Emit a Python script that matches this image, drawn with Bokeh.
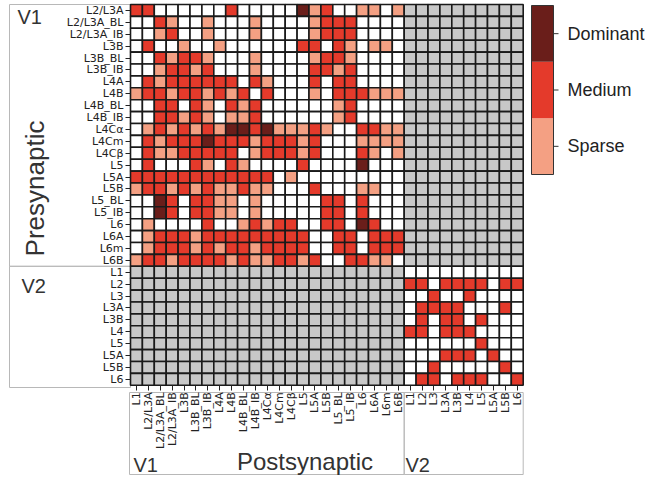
import math
from bokeh.plotting import figure
from bokeh.models import Range1d, LinearAxis, FixedTicker, ColumnDataSource
from bokeh.core.properties import value
from bokeh.embed import file_html
from bokeh.resources import INLINE

# ---------------- data ----------------
pre_v1 = ["L2/L3A", "L2/L3A_BL", "L2/L3A_IB", "L3B", "L3B_BL", "L3B_IB", "L4A", "L4B",
          "L4B_BL", "L4B_IB", "L4Cα", "L4Cm", "L4Cβ", "L5", "L5A", "L5B", "L5_BL", "L5_IB",
          "L6", "L6A", "L6m", "L6B"]
post_v1 = ["L1"] + pre_v1
v2_layers = ["L1", "L2", "L3", "L3A", "L3B", "L4", "L5", "L5A", "L5B", "L6"]
areas = ["V1", "V2"]
levels = ["Sparse", "Medium", "Dominant"]
level_colors = ["#f4a083", "#e43a2b", "#6a1e1a"]
empty_color = "#ffffff"
gray_color = "#c8c8c8"

# 0 = none, 1 = sparse, 2 = medium, 3 = dominant  (rows: presynaptic V1, cols: postsynaptic V1)
v1_matrix = [
    [2, 2, 0, 0, 0, 0, 0, 0, 2, 0, 0, 0, 0, 0, 3, 1, 2, 0, 0, 1, 1, 0, 1],
    [0, 0, 2, 1, 0, 0, 1, 0, 0, 0, 1, 0, 0, 0, 0, 1, 2, 2, 2, 0, 0, 0, 0],
    [0, 0, 1, 2, 0, 0, 1, 0, 0, 0, 1, 0, 0, 0, 0, 1, 2, 2, 2, 0, 0, 0, 0],
    [0, 2, 0, 0, 1, 0, 0, 1, 0, 0, 0, 0, 0, 0, 2, 2, 0, 2, 1, 0, 1, 1, 0],
    [0, 0, 2, 1, 2, 2, 1, 0, 0, 0, 1, 0, 0, 0, 0, 1, 2, 2, 1, 0, 0, 0, 0],
    [0, 0, 1, 2, 2, 1, 2, 0, 0, 0, 1, 0, 0, 0, 0, 2, 2, 1, 2, 0, 0, 0, 0],
    [0, 2, 1, 2, 2, 2, 2, 2, 2, 0, 2, 1, 0, 0, 0, 2, 0, 2, 2, 0, 0, 0, 0],
    [1, 2, 2, 1, 2, 2, 1, 2, 1, 2, 0, 2, 0, 0, 0, 1, 0, 2, 2, 2, 1, 1, 1],
    [0, 0, 2, 2, 0, 2, 1, 0, 2, 1, 2, 0, 0, 0, 0, 0, 0, 1, 2, 0, 0, 0, 0],
    [0, 0, 2, 2, 1, 2, 1, 0, 1, 1, 2, 0, 0, 0, 0, 0, 0, 1, 2, 0, 0, 0, 0],
    [0, 1, 2, 1, 2, 1, 2, 1, 3, 3, 2, 3, 1, 1, 1, 2, 1, 0, 0, 2, 2, 1, 1],
    [0, 2, 1, 2, 2, 2, 3, 2, 2, 2, 1, 2, 2, 2, 1, 2, 0, 0, 0, 1, 1, 1, 1],
    [0, 2, 1, 1, 2, 2, 2, 2, 2, 0, 1, 2, 2, 2, 1, 2, 0, 0, 0, 2, 1, 0, 1],
    [0, 2, 0, 0, 0, 2, 1, 0, 2, 1, 0, 0, 0, 0, 2, 0, 0, 0, 0, 3, 0, 0, 0],
    [2, 2, 2, 2, 2, 2, 2, 2, 2, 2, 2, 2, 0, 1, 0, 0, 0, 0, 0, 0, 0, 0, 0],
    [1, 2, 2, 1, 2, 1, 2, 1, 1, 2, 1, 1, 0, 0, 0, 2, 0, 0, 0, 1, 1, 0, 0],
    [0, 0, 3, 2, 0, 2, 2, 1, 1, 0, 1, 0, 0, 0, 0, 0, 2, 2, 0, 2, 0, 0, 0],
    [0, 0, 3, 2, 0, 2, 2, 1, 1, 0, 1, 0, 0, 0, 0, 0, 2, 2, 0, 2, 0, 0, 0],
    [0, 1, 0, 0, 0, 0, 2, 0, 0, 1, 2, 1, 2, 2, 0, 0, 2, 2, 0, 3, 2, 0, 0],
    [0, 1, 2, 2, 2, 1, 2, 2, 2, 2, 2, 2, 2, 2, 2, 0, 0, 2, 2, 0, 2, 2, 2],
    [0, 1, 2, 2, 2, 1, 2, 1, 2, 2, 1, 2, 2, 2, 2, 0, 0, 2, 2, 0, 2, 2, 2],
    [1, 2, 2, 1, 2, 2, 2, 2, 1, 2, 1, 1, 2, 2, 1, 2, 0, 0, 2, 2, 1, 1, 0],
]

# rows: presynaptic V2, cols: postsynaptic V2
v2_matrix = [
    [0, 0, 0, 0, 0, 0, 0, 0, 0, 0],
    [2, 2, 0, 2, 2, 2, 2, 0, 2, 2],
    [0, 0, 2, 0, 0, 2, 0, 0, 0, 0],
    [0, 2, 2, 2, 2, 0, 0, 0, 2, 0],
    [0, 2, 0, 2, 2, 0, 2, 0, 0, 0],
    [2, 2, 0, 2, 2, 2, 0, 0, 0, 0],
    [0, 0, 0, 0, 0, 0, 2, 0, 0, 0],
    [0, 0, 0, 2, 2, 2, 0, 2, 0, 0],
    [0, 0, 2, 0, 0, 0, 0, 0, 2, 0],
    [0, 2, 2, 0, 2, 2, 2, 0, 0, 2],
]

row_labels = pre_v1 + v2_layers
col_labels = post_v1 + v2_layers
n_rows, n_cols = len(row_labels), len(col_labels)
n_v1_rows, n_v1_cols = len(pre_v1), len(post_v1)

# ---------------- layout helpers (picture pixels -> data units) ----------------
CW = 11.9
GX0, GY0 = 130.0, 4.0
W, H = 645, 475


def X(px):
    return (px - GX0) / CW - 0.5


def Y(py):
    return (py - GY0) / CW - 0.5


p = figure(width=W, height=H, output_backend="svg", toolbar_location=None,
           x_range=Range1d(X(0), X(W)),
           y_range=Range1d(Y(H), Y(0)),
           x_axis_location=None, y_axis_location=None,
           min_border=0, outline_line_color=None)
p.styles = {"margin-bottom": "-16px"}
p.grid.visible = False

# ---------------- cells ----------------
palette = [empty_color] + level_colors
xs, ys, cs = [], [], []
for i in range(n_rows):
    for j in range(n_cols):
        if i < n_v1_rows and j < n_v1_cols:
            c = palette[v1_matrix[i][j]]
        elif i >= n_v1_rows and j >= n_v1_cols:
            c = palette[v2_matrix[i - n_v1_rows][j - n_v1_cols]]
        else:
            c = gray_color
        xs.append(j)
        ys.append(i)
        cs.append(c)

# ---------------- area boxes ----------------
box_l = [X(9), X(9), X(129), n_v1_cols - 0.5]
box_r = [-0.5, -0.5, n_v1_cols - 0.5, n_cols - 0.5]
box_t = [Y(4), n_v1_rows - 0.5, Y(392), Y(392)]
box_b = [n_v1_rows - 0.5, Y(387), Y(474), Y(474)]
p.quad(left=box_l, right=box_r, top=box_t, bottom=box_b, fill_color=None,
       line_color="#b8b8b8", line_width=1)

src = ColumnDataSource(dict(x=xs, y=ys, c=cs))
p.rect(x="x", y="y", width=1, height=1, source=src, fill_color="c",
       line_color="#1a1a1a", line_width=1.6)

# ---------------- axes with tick labels ----------------
font_ticks = "DejaVu Sans"
yaxis = LinearAxis(fixed_location=-0.5, ticker=FixedTicker(ticks=list(range(n_rows))),
                   major_label_overrides={i: lab for i, lab in enumerate(row_labels)})
xaxis = LinearAxis(fixed_location=n_rows - 0.5, ticker=FixedTicker(ticks=list(range(n_cols))),
                   major_label_overrides={j: lab for j, lab in enumerate(col_labels)},
                   major_label_orientation=math.pi / 2)
for ax in (yaxis, xaxis):
    ax.axis_line_color = None
    ax.major_tick_in = 0
    ax.major_tick_out = 5
    ax.major_tick_line_color = "#222222"
    ax.minor_tick_line_color = None
    ax.major_label_text_font = font_ticks
    ax.major_label_text_font_size = "11px"
    ax.major_label_text_color = "#222222"
    ax.major_label_standoff = 2
p.add_layout(yaxis, "left")
p.add_layout(xaxis, "below")

# ---------------- titles ----------------
font_main = "Liberation Sans"
p.text(x=[X(17), X(21), X(133), X(405)], y=[Y(16), Y(285), Y(464), Y(464)],
       text=[areas[0], areas[1], areas[0], areas[1]],
       text_font=value(font_main), text_font_size="20px", text_color="#333333",
       text_baseline="middle", text_align="left")
p.text(x=[X(304.5)], y=[Y(461)], text=["Postsynaptic"], text_font=value(font_main),
       text_font_size="24px", text_color="#333333", text_align="center",
       text_baseline="middle")
p.text(x=[X(34)], y=[Y(188)], text=["Presynaptic"], text_font=value(font_main),
       text_font_size="26px", text_color="#333333", text_align="center",
       text_baseline="middle", angle=math.pi / 2)

# ---------------- colour bar ----------------
CB_L, CB_R, CB_T, CB_B = 531, 553, 5, 174
seg = (CB_B - CB_T) / len(levels)
cb_bottom = [Y(CB_B - k * seg) for k in range(len(levels))]
cb_top = [Y(CB_B - (k + 1) * seg) for k in range(len(levels))]
cb_mid = [Y(CB_B - (k + 0.5) * seg) for k in range(len(levels))]
p.quad(left=[X(CB_L)] * len(levels), right=[X(CB_R)] * len(levels), top=cb_top,
       bottom=cb_bottom, fill_color=level_colors, line_color=None)
p.quad(left=[X(CB_L)], right=[X(CB_R)], top=[Y(CB_T)], bottom=[Y(CB_B)],
       fill_color=None, line_color="#333333", line_width=1)
p.segment(x0=[X(CB_R)] * len(levels), x1=[X(CB_R + 5)] * len(levels), y0=cb_mid, y1=cb_mid,
          line_color="#333333", line_width=1)
p.text(x=[X(567)] * len(levels), y=cb_mid, text=levels, text_font=value(font_main),
       text_font_size="18px", text_color="#222222", text_baseline="middle",
       text_align="left")

open("out.html", "w").write(file_html(p, INLINE))
